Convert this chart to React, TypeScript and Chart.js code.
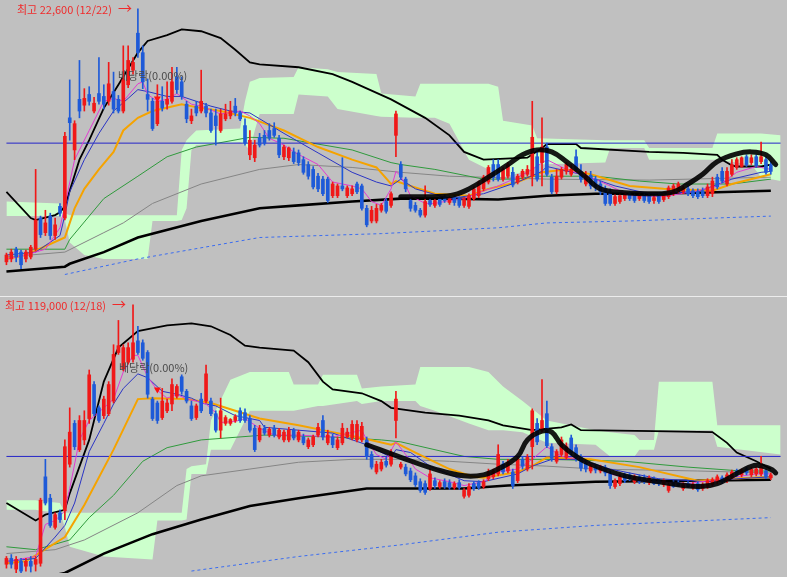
import React, { useEffect, useRef } from "react";
import { Chart, registerables } from "chart.js";
Chart.register(...registerables);

const SLOTS = 160;
const labels = Array.from({ length: SLOTS }, (_, i) => `D${i + 1}`);

// ---------------- TOP PANEL (price, won) ----------------
const topCandles = [
  [9600,10050,9450,9950],[9750,10250,9600,10100],[10250,10350,9600,9850],[10100,10200,9250,9450],[9750,10200,9600,10100],
  [9850,10450,9750,10350],[10250,14350,10150,11750],[11850,11950,10850,11000],[11100,12250,10950,11600],[11950,12100,10750,10950],
  [10950,11850,10750,11500],[12450,12600,11950,12100],[11850,16250,11750,16050],[17000,18950,15850,16750],[15350,16850,14850,16700],
  [17950,19950,17000,17350],[17650,18500,17350,18000],[18200,18600,17650,17850],[17350,18050,17250,17750],[18250,20100,17700,17850],
  [18100,18700,17450,17700],[17850,19850,17650,18750],[18350,19350,17250,17450],[17950,18150,17250,17350],[17350,20700,17250,18950],
  [18700,20700,18550,19950],[19450,20100,19250,19850],[21350,22600,20100,20350],[20350,20700,18500,18850],[18200,19000,17350,17950],
  [17850,18000,16350,16450],[16700,18700,16600,17850],[17850,18600,17350,17500],[17700,18850,17450,17950],[17850,19600,17750,18850],
  [19100,19600,18250,18450],[18850,19100,17950,18100],[17700,17850,16750,16950],[16850,17450,16700,17100],[17600,17850,17100,17250],
  [17350,19450,17250,17850],[17600,17750,17050,17250],[17250,17450,16250,16350],[17100,17450,15600,16600],[16350,17450,16250,17200],
  [16950,17700,16850,17200],[17100,17850,16950,17350],[17600,18000,17100,17250],[17250,17350,16850,16950],[16600,16950,15600,15700],
  [15100,16350,14850,15850],[14950,15850,14750,15600],[16000,16200,15500,15600],[16100,16350,15600,15700],[16350,16700,15850,15950],
  [16450,16750,16000,16100],[15950,16100,14950,15100],[15000,15600,14850,15500],[14950,15500,14800,15450],[15250,15450,14650,14750],
  [15200,15350,14550,14700],[14850,15000,14100,14200],[14600,14750,13850,14000],[14350,14500,13350,13450],[14000,14150,13200,13350],
  [13850,14000,13000,13100],[13850,13950,12650,12750],[13000,13700,12900,13600],[13000,13600,12900,13500],[13500,14950,13250,13350],
  [13000,13500,12900,13400],[13100,13500,13000,13350],[13600,13700,13100,13200],[13500,13600,12250,12350],[12350,12500,11400,11500],
  [11700,12450,11600,12250],[11700,12550,11600,12350],[12250,12600,12150,12500],[12700,12850,12100,12200],[12500,13200,12400,13100],
  [16100,17350,15000,17200],[14600,14750,13850,13950],[13850,13950,13200,13350],[12750,12900,12200,12350],[12500,12650,12150,12250],
  [12250,12350,11900,12000],[12000,13500,11900,12700],[12750,12850,12450,12550],[12500,12850,12400,12750],[12850,12950,12450,12550],
  [12950,13050,12650,12750],[12650,12950,12550,12850],[12900,13000,12500,12650],[12850,12950,12400,12500],[12500,12900,12400,12800],
  [12450,13100,12350,13000],[12850,13450,12750,13350],[13000,13750,12900,13650],[13350,14050,13250,13950],[13700,14550,13600,14450],
  [14600,14850,13750,13950],[14600,14850,13750,13850],[13850,14450,13750,14350],[14000,14700,13900,14600],[14200,14450,13450,13550],
  [13700,14100,13600,14000],[13950,14350,13850,14250],[14100,14550,14000,14350],[14000,17850,13500,16000],[15000,15350,13750,13850],
  [14700,17000,13500,15500],[15500,15700,14000,14100],[13950,14100,13100,13200],[13200,14350,13100,14000],[13950,14450,13850,14350],
  [14250,14700,14100,14600],[14100,14600,14000,14350],[15000,15350,14250,14350],[14250,14600,13700,13850],[13600,14250,13500,14000],
  [14050,14250,13350,13500],[13850,14000,13250,13450],[13600,13750,13050,13200],[13350,13500,12500,12600],[13200,13350,12500,12600],
  [12600,13050,12500,12950],[12700,13100,12600,13000],[12850,13150,12750,13050],[13100,13200,12750,12850],[13000,13100,12650,12750],
  [12850,13100,12750,13000],[13000,13100,12650,12750],[13000,13100,12600,12700],[12750,13000,12600,12900],[13000,13150,12600,12700],
  [12800,13100,12700,13000],[12950,13500,12850,13400],[13100,13600,13000,13500],[13250,13700,13150,13600],[13200,13500,13100,13400],
  [13350,13500,13000,13100],[13250,13350,12900,13000],[13200,13350,12850,12950],[13250,13400,12900,13000],[13000,13600,12900,13450],
  [13100,13950,12950,13750],[13950,14100,13350,13450],[14250,14450,13650,13750],[13600,14450,13500,14250],[14100,14850,14000,14600],
  [14450,14950,14350,14850],[14500,15000,14450,14950],[15000,15100,14500,14600],[14700,15100,14600,14950],[15000,15100,14450,14550],
  [14750,15750,14650,15000],[14850,15000,14100,14200],[14600,14750,14100,14250],
];
const topMa5 = [[0,9750],[4,9950],[8,10250],[11,11350],[12,12500],[14,14850],[17,16350],[20,17850],[22,18000],[24,17850],[27,18750],[28,18850],[29,18200],[31,17850],[33,17950],[35,18250],[38,17700],[40,17600],[44,17200],[48,17350],[50,17100],[52,16700],[54,15950],[57,15600],[59,15250],[64,14600],[67,13700],[71,13500],[73,13350],[75,12700],[77,12500],[79,13350],[80,14250],[81,14000],[83,13000],[86,12600],[88,12600],[91,12750],[94,12850],[98,13250],[101,13500],[105,13950],[108,14350],[111,14850],[115,14350],[120,13950],[124,13500],[128,13000],[135,12950],[142,13250],[146,13500],[150,14200],[154,14500],[157,14350]];
const topMa10 = [[0,9950],[6,10100],[11,10950],[12,12000],[13,13200],[16,14850],[19,16200],[22,17350],[25,18000],[27,18450],[29,18350],[33,18100],[36,18100],[39,17850],[42,17600],[46,17350],[50,17250],[52,16950],[57,16200],[64,15200],[71,14200],[76,13700],[79,13500],[81,13850],[84,13350],[91,12850],[98,13100],[105,13700],[110,14250],[111,14500],[118,14100],[125,13500],[132,13100],[142,13200],[149,13850],[155,14200],[157,14250]];
const topMa20 = [[0,9750],[4,9950],[12,10850],[14,12350],[16,13350],[19,14350],[22,15250],[24,16350],[27,17000],[30,17350],[36,17700],[40,17500],[44,17350],[50,17000],[57,16350],[64,15500],[71,14850],[76,14450],[79,13600],[80,13750],[83,13500],[88,13100],[95,13000],[99,13350],[105,13700],[110,14200],[115,14350],[120,14100],[128,13500],[135,13350],[145,13250],[149,13600],[157,14100]];
const topMa60 = [[0,10250],[12,10250],[13,10750],[20,12850],[27,14000],[33,15000],[39,15500],[50,16000],[57,15950],[71,15350],[79,14700],[81,14600],[88,14350],[98,13850],[105,13850],[108,14000],[121,14000],[130,13750],[138,13600],[149,13600],[157,13850]];
const topMa120 = [[0,9850],[12,10100],[20,11100],[24,11600],[30,12600],[40,13600],[52,14350],[60,14600],[71,14450],[81,14200],[91,14000],[111,13850],[132,13800],[157,13950]];
const topMa240 = [[0,9100],[12,9350],[13,9500],[20,10100],[27,10850],[40,11700],[52,12350],[60,12500],[71,12700],[81,12850],[91,12850],[101,12800],[111,13000],[121,13100],[132,13100],[142,13150],[157,13250]];
const topBaseLine = [[0,13200],[5,11850],[6,11750],[10,12000],[11,12150],[12,12450],[15,14850],[17,15850],[20,17500],[23,18700],[27,20350],[29,20950],[33,21250],[36,21550],[40,21450],[44,21100],[47,20500],[50,19850],[52,19750],[60,19600],[67,19250],[71,18850],[79,17950],[86,17000],[91,16100],[94,15250],[98,14850],[107,14950],[110,15450],[111,15650],[117,15650],[118,15450],[132,15250],[139,15200],[146,15100],[147,14850],[149,14550],[150,14500],[155,14500],[157,14600]];
const topLowerBand = [[12,8950],[27,9750],[52,10850],[77,11050],[101,11350],[111,11600],[128,11700],[157,11950]];
const topCloud = [[0,12700,11950],[11,12600,11950],[12,12100,11750],[13,12000,10600],[16,12000,9950],[20,12000,9750],[29,12000,9750],[30,12000,11700],[35,12000,11700],[36,15350,11750],[37,15850,12350],[38,16100,15350],[39,16350,15600],[48,16450,15750],[49,17850,15600],[50,18850,15350],[51,18950,16350],[52,19050,17200],[59,19100,17200],[60,19600,18200],[66,19500,18100],[68,19350,17450],[76,19250,17100],[77,18250,17050],[84,18100,17000],[85,18750,17000],[88,18750,17000],[91,18750,16700],[95,18750,14850],[99,18750,14350],[101,18600,13950],[102,16850,13950],[108,16600,14350],[109,15950,14600],[123,15850,14700],[124,15850,15450],[131,15850,15450],[132,15450,14850],[145,15450,14850],[146,16200,14850],[153,16200,14600],[155,16200,13950],[159,16100,13750]];
const topSketch = [[81,12950],[88,12950],[92,13050],[95,13350],[99,13950],[103,14600],[106,15100],[109,15350],[112,15250],[115,14750],[119,13950],[122,13350],[127,13150],[133,13100],[137,13200],[140,13600],[143,14100],[146,14750],[150,15150],[153,15250],[156,15100],[158,14600]];
const topRefPrice = 15700;
const topMarker = [[31, 18000]];

// ---------------- BOTTOM PANEL (price, won) ----------------
const botCandles = [
  [52250,54250,51250,53750],[53750,54750,51250,52250],[51000,54250,50000,53500],[53000,53750,50000,50500],[51750,53750,50500,53000],
  [53000,54250,50250,51750],[52250,54250,50500,53500],[52500,69250,51750,68750],[74750,79250,67500,68000],[69250,70250,61750,62250],
  [61750,65500,61250,65000],[65500,66250,63000,63750],[66000,84250,63750,82500],[78000,92500,77250,86250],[88500,89250,81750,82500],
  [81750,90500,81250,89250],[84250,91750,83000,89250],[89750,102250,88500,101000],[98500,99250,90500,91000],[92500,93000,88750,89250],
  [90500,95500,89750,94750],[91000,99250,90500,98500],[94250,108750,93750,106250],[106750,115000,106250,108500],[102500,108750,102000,108000],
  [104250,109250,103750,108000],[105000,119000,104250,109250],[109750,113500,106250,106750],[109250,110000,104750,105250],[106750,107250,95000,96000],
  [94750,95250,89250,89750],[93750,94250,88500,89250],[90000,97500,89500,94250],[91750,94750,91250,93750],[93500,100000,91750,98500],
  [95500,98500,95000,98000],[100500,101000,96000,96750],[96750,97250,93750,94250],[93000,94250,89250,89750],[90000,93500,89500,93000],
  [94750,96250,91250,91750],[94250,103500,93750,101250],[94250,95000,90500,91000],[91000,91750,86250,86750],[86750,95000,84750,91750],
  [88500,90500,88000,90000],[88500,89750,88000,89500],[89250,90750,88750,90250],[91750,92500,88750,89250],[91250,92250,88750,89250],
  [89750,90500,86250,86750],[87250,88000,81250,81750],[84250,88000,83750,87250],[87250,88000,85500,86000],[85500,87500,85000,87000],
  [87250,88000,85000,85500],[85000,87250,84500,86750],[84250,86750,83750,86250],[84250,87500,83750,86750],[86750,87250,84250,84750],
  [84250,86750,83750,86250],[85000,85750,83000,83500],[82500,84750,82000,84250],[83000,85500,82500,85000],[85500,88500,85000,87500],
  [89250,90500,84250,85000],[83500,86750,83000,85500],[85000,85750,82250,83000],[82250,85000,81750,84250],[83500,88500,83000,87250],
  [85000,87250,84750,86250],[84750,89250,84250,88250],[84250,89250,83750,88250],[84250,88750,83750,87750],[84250,85000,79250,80000],
  [80500,81250,76750,77250],[76000,78750,75500,78000],[76750,79250,76250,78500],[78750,79750,77250,77750],[78000,81750,77500,81000],
  [89250,96750,84750,94750],[77250,78500,76750,78000],[77250,78000,75000,75500],[76250,77000,73500,74000],[75000,75750,72250,72750],
  [73500,74250,70750,71250],[73000,73750,70250,70750],[71750,76750,71250,75500],[73750,74500,71750,72500],[72250,73750,71750,73250],
  [73500,74250,71750,72250],[73250,74000,71500,72000],[72000,73500,71500,73000],[73250,74000,71500,72000],[69750,71750,69250,71250],
  [70000,73000,69500,72250],[73000,73500,71250,71750],[73250,73750,71500,72000],[72250,74000,71750,73500],[74250,76750,73750,76000],
  [74750,76750,74250,76250],[75500,83000,75000,80500],[78000,78750,75500,76000],[76250,79250,75750,78500],[76000,76750,71750,72500],
  [73750,79750,73250,79250],[79250,80000,76750,77500],[76750,80500,76250,79750],[82500,92250,76750,91750],[88500,89750,83000,83750],
  [86750,99750,86250,89250],[91000,94250,82250,82750],[82500,83250,78750,79500],[78750,81750,78250,81250],[80500,85000,80000,84250],
  [79750,83500,79250,82500],[84750,85500,80250,81000],[82250,83000,78750,79750],[79750,80500,76250,77000],[78250,79000,76000,76750],
  [76250,78000,75750,77500],[77250,78000,75750,76500],[76250,77750,75750,77250],[77000,77750,75000,75750],[75500,76250,71750,72500],
  [72250,74250,71750,73750],[73000,75250,72500,74750],[75250,75750,73250,73750],[75250,75750,73750,74250],[73500,75250,73000,74750],
  [74750,75250,73000,73500],[74500,75250,73000,73500],[73250,75000,72750,74500],[74250,74750,72750,73000],[73750,74250,72500,73000],
  [72750,74250,72250,73750],[71250,73250,70750,72750],[73250,73750,72000,72250],[73250,73750,72250,72500],[71750,73250,71250,72750],
  [73000,73500,72000,72250],[72000,73250,71500,72750],[73000,73500,71000,71500],[71750,73250,71250,72750],[72250,74250,71750,73750],
  [72750,74500,72250,74000],[73500,75250,73000,74750],[74500,75000,73000,73500],[73750,75750,73250,75250],[74750,76500,74250,76000],
  [76250,76750,74750,75250],[75250,76750,74750,76250],[76750,77250,75250,75750],[75250,77250,74750,76750],[75500,77250,75000,76750],
  [75500,80000,75000,77250],[76250,76750,74250,74750],[74500,75750,74000,75250],
];
const botMa5 = [[0,53000],[6,54250],[8,62500],[10,63500],[12,66000],[13,71750],[15,84250],[17,89250],[20,92500],[22,94750],[24,101750],[26,106000],[27,106000],[29,100500],[31,97000],[33,95000],[35,96000],[37,94750],[39,94250],[41,93500],[43,91250],[44,88750],[47,89000],[49,89750],[52,87250],[55,85500],[60,85500],[67,85000],[73,86750],[74,84250],[76,80500],[78,79250],[80,83750],[82,80500],[84,76750],[87,74500],[91,73500],[94,72500],[98,73500],[101,76000],[105,76750],[108,79250],[111,82500],[114,80000],[118,79250],[121,77500],[124,75500],[130,73750],[140,73000],[147,74250],[154,75500],[157,75500]];
const botMa10 = [[0,53000],[6,53750],[10,59250],[12,62250],[14,68000],[17,81250],[20,88500],[22,93500],[24,97500],[27,101250],[29,100250],[32,96750],[35,96000],[38,95000],[40,93750],[43,93000],[47,90500],[52,89250],[53,87500],[67,86000],[74,83000],[79,79750],[80,81750],[83,81000],[87,77500],[94,73750],[98,73500],[105,75500],[108,77500],[112,79250],[117,79250],[121,78000],[124,76750],[134,74250],[144,73500],[150,74250],[157,74750]];
const botMa20 = [[0,52500],[4,53000],[12,59250],[16,67500],[22,81750],[27,94750],[30,95000],[37,94750],[42,93750],[47,91750],[52,89750],[60,88000],[67,86250],[73,84750],[79,83000],[80,83500],[84,81000],[91,76750],[96,74750],[98,74500],[105,76000],[108,77500],[111,79750],[120,79250],[130,77250],[142,73750],[149,74250],[157,74750]];
const botMa60 = [[0,56750],[6,56000],[13,58500],[17,64250],[22,70000],[28,78750],[33,82250],[40,84250],[53,85500],[67,85000],[77,84250],[81,83750],[94,80000],[101,79250],[111,79250],[127,78750],[140,77250],[151,76250],[157,76250]];
const botMa120 = [[0,55000],[10,56000],[16,58500],[27,65500],[35,72500],[40,75000],[50,76750],[60,78500],[71,79250],[81,79250],[91,78750],[101,78000],[111,77500],[121,76750],[142,76250],[157,75750]];
const botMa240 = [[0,46750],[12,50000],[20,55000],[30,60000],[40,63750],[50,67250],[60,69250],[74,71750],[94,71750],[103,72500],[121,73500],[140,73750],[157,74000]];
const botBaseLine = [[0,68000],[6,63500],[8,65000],[12,66250],[13,70500],[17,84250],[20,99250],[23,108000],[27,112250],[33,113750],[38,114250],[42,113500],[46,111250],[49,108500],[52,108000],[59,107250],[62,104250],[65,99250],[67,97250],[73,96250],[77,94250],[79,92500],[86,91250],[93,90500],[99,89250],[102,88000],[108,86750],[114,87500],[116,88250],[118,86750],[133,86500],[145,86250],[148,83500],[150,81000],[154,78750],[157,76750]];
const botLowerBand = [[38,50500],[60,54250],[81,57250],[101,60500],[121,62250],[157,64250]];
const botCloud = [[0,68750,66250],[6,68750,66250],[7,68500,66000],[11,68000,65500],[12,65500,61750],[13,65500,56750],[20,65500,54250],[30,65500,53500],[31,65500,63500],[36,65500,63500],[37,76750,63750],[38,77500,75500],[41,78000,75500],[42,89250,81750],[46,99750,81750],[50,101750,91750],[58,101750,91750],[59,98500,91750],[64,98500,93000],[65,101000,93000],[72,101000,94250],[73,97500,93500],[77,98000,94250],[84,98500,94250],[85,103000,93000],[88,103000,91750],[95,103000,88500],[99,101750,86750],[102,98000,86750],[106,94250,86250],[111,89250,83500],[121,86750,83000],[124,86250,80000],[129,85500,80000],[130,84250,81750],[133,84250,81750],[134,99250,86750],[145,99250,86750],[146,88000,82500],[159,88000,80500]];
const botSketch = [[74,83000],[81,79750],[88,76750],[94,75000],[98,75250],[101,76750],[105,80000],[107,84250],[110,86500],[112,86250],[114,83000],[117,80000],[120,78000],[127,75000],[134,73500],[142,72250],[146,73000],[151,76250],[154,77750],[157,76750],[158,75750]];
const botRefPrice = 80000;
const botMarker = [[31, 97250]];

// ---------------- styling ----------------
const UP = "#f01818";
const DOWN = "#1e5ad8";
const CLOUD = "rgb(204,255,204)";
const BG = "#c0c0c0";

function sparse(points: number[][]) {
  const out: (number | null)[] = new Array(SLOTS).fill(null);
  for (const [i, v] of points) out[i] = v;
  return out;
}

function line(points: number[][], color: string, width: number, order: number, extra: any = {}) {
  return {
    type: "line",
    data: sparse(points),
    borderColor: color,
    borderWidth: width,
    pointRadius: 0,
    spanGaps: true,
    tension: 0,
    fill: false,
    order,
    ...extra,
  };
}

function buildDatasets(p: any) {
  const colors = p.candles.map((c: number[]) => (c[3] >= c[0] ? UP : DOWN));
  return [
    // cloud (span A then span B filled to it)
    {
      type: "line",
      data: sparse(p.cloud.map((r: number[]) => [r[0], r[1]])),
      borderColor: "rgba(0,0,0,0)",
      borderWidth: 0,
      pointRadius: 0,
      spanGaps: true,
      fill: false,
      order: 31,
    },
    {
      type: "line",
      data: sparse(p.cloud.map((r: number[]) => [r[0], r[2]])),
      borderColor: "rgba(0,0,0,0)",
      borderWidth: 0,
      pointRadius: 0,
      spanGaps: true,
      fill: "-1",
      backgroundColor: CLOUD,
      order: 30,
    },
    line(p.ma120, "#858585", 1, 14),
    line(p.ma60, "#2f9a3c", 1, 13),
    line(p.lower, "#3a6cf0", 1, 12, { borderDash: [3, 3] }),
    line(p.ma240, "#000000", 2.6, 11),
    line(p.base, "#000000", 1.8, 10),
    line([[0, p.ref], [SLOTS - 1, p.ref]], "#2424c8", 1, 9),
    line(p.ma20, "#f5a300", 2, 8),
    line(p.ma10, "#2a34c4", 1, 7),
    line(p.ma5, "#e23ad2", 1, 6),
    {
      type: "bar",
      data: p.candles.map((c: number[]) => [c[2], c[1]]),
      backgroundColor: colors,
      barThickness: 1,
      grouped: false,
      minBarLength: 1,
      order: 5,
    },
    {
      type: "bar",
      data: p.candles.map((c: number[]) => [c[0], c[3]]),
      backgroundColor: colors,
      barThickness: 3,
      grouped: false,
      minBarLength: 1,
      order: 4,
    },
    {
      type: "line",
      data: sparse(p.marker),
      showLine: false,
      pointStyle: "triangle",
      rotation: 180,
      pointRadius: 4,
      pointBackgroundColor: "#ff1010",
      pointBorderColor: "#ff1010",
      borderWidth: 0,
      order: 2,
    },
    line(p.sketch, "rgba(0,0,0,0.9)", 5, 1, {
      tension: 0.4,
      borderCapStyle: "round",
      borderJoinStyle: "round",
    }),
  ];
}

function Panel({ height, min, max, panel }: any) {
  const ref = useRef<HTMLCanvasElement | null>(null);
  useEffect(() => {
    if (!ref.current) return;
    const chart = new Chart(ref.current, {
      type: "bar",
      data: { labels, datasets: buildDatasets(panel) as any },
      options: {
        animation: false,
        responsive: false,
        devicePixelRatio: 1,
        events: [],
        layout: { padding: 0 },
        plugins: { legend: { display: false }, tooltip: { enabled: false } },
        scales: {
          x: { display: false, offset: true, grid: { display: false } },
          y: { display: false, min, max, grid: { display: false } },
        },
      },
    });
    return () => chart.destroy();
  }, []);
  return <canvas ref={ref} width={787} height={height} style={{ display: "block", width: 787, height }} />;
}

const txtBase: React.CSSProperties = {
  position: "absolute",
  fontFamily: '"Noto Sans CJK KR", "Noto Sans", sans-serif',
  fontSize: 11,
  lineHeight: "12px",
  whiteSpace: "nowrap",
};

export default function App() {
  const top = {
    candles: topCandles, ma5: topMa5, ma10: topMa10, ma20: topMa20, ma60: topMa60, ma120: topMa120,
    ma240: topMa240, base: topBaseLine, lower: topLowerBand, cloud: topCloud, sketch: topSketch,
    ref: topRefPrice, marker: topMarker,
  };
  const bot = {
    candles: botCandles, ma5: botMa5, ma10: botMa10, ma20: botMa20, ma60: botMa60, ma120: botMa120,
    ma240: botMa240, base: botBaseLine, lower: botLowerBand, cloud: botCloud, sketch: botSketch,
    ref: botRefPrice, marker: botMarker,
  };
  return (
    <div style={{ position: "absolute", left: 0, top: 0, width: 787, height: 577, background: BG, overflow: "hidden" }}>
      <div style={{ position: "absolute", left: 0, top: 0 }}>
        <Panel height={296} min={8050} max={22850} panel={top} />
      </div>
      <div style={{ position: "absolute", left: 0, top: 296, width: 787, height: 1, background: "#ececec" }} />
      <div style={{ position: "absolute", left: 0, top: 297 }}>
        <Panel height={280} min={50000} max={120000} panel={bot} />
      </div>
      <div style={{ ...txtBase, left: 17, top: 3, color: "#f02a2a" }}>최고 22,600 (12/22)</div>
      <div style={{ ...txtBase, left: 118, top: 1, color: "#f02a2a", fontSize: 14 }}>→</div>
      <div style={{ ...txtBase, left: 118, top: 69, color: "#4a4a4a" }}>배당락(0.00%)</div>
      <div style={{ ...txtBase, left: 5, top: 299, color: "#f02a2a" }}>최고 119,000 (12/18)</div>
      <div style={{ ...txtBase, left: 112, top: 297, color: "#f02a2a", fontSize: 14 }}>→</div>
      <div style={{ ...txtBase, left: 119, top: 361, color: "#4a4a4a" }}>배당락(0.00%)</div>
    </div>
  );
}
